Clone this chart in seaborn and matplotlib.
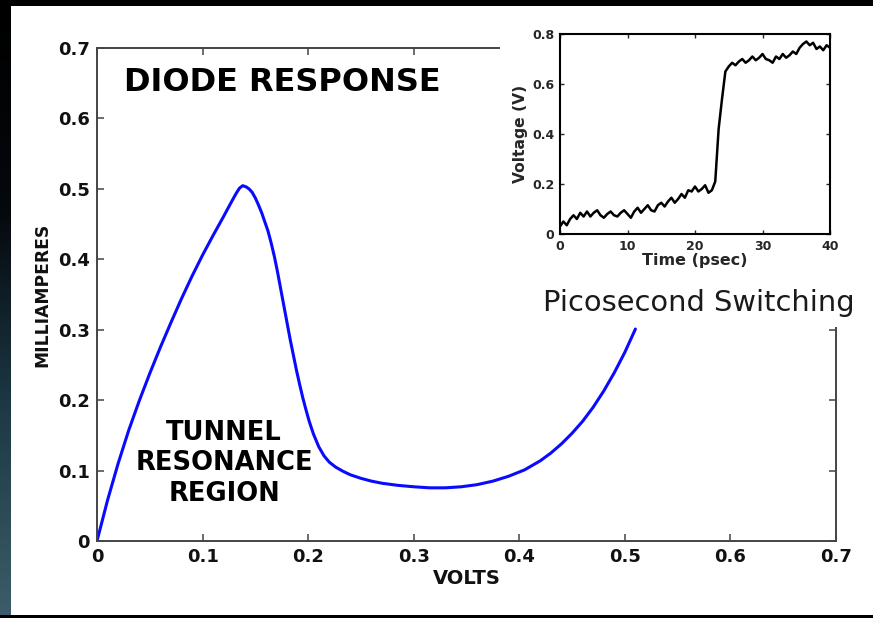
import matplotlib
matplotlib.use("Agg")
import matplotlib.pyplot as plt
import numpy as np
import seaborn as sns
from matplotlib.colors import LinearSegmentedColormap
from matplotlib.patches import Rectangle

# main diode I-V curve (volts, milliamperes)
volts = [0.000, 0.010, 0.020, 0.030, 0.040, 0.050, 0.060, 0.070, 0.080, 0.090,
         0.100, 0.110, 0.120, 0.125, 0.129, 0.132, 0.135, 0.138, 0.141, 0.144,
         0.147, 0.150, 0.153, 0.156, 0.159, 0.162, 0.165, 0.168, 0.171, 0.174,
         0.177, 0.180, 0.183, 0.186, 0.189, 0.192, 0.195, 0.198, 0.201, 0.205,
         0.210, 0.215, 0.220, 0.226, 0.233, 0.240, 0.250, 0.260, 0.270, 0.285,
         0.300, 0.315, 0.330, 0.345, 0.360, 0.375, 0.390, 0.405, 0.420, 0.430,
         0.440, 0.450, 0.460, 0.470, 0.480, 0.490, 0.500, 0.510]
milliamps = [0.000, 0.058, 0.110, 0.157, 0.199, 0.238, 0.275, 0.310, 0.344, 0.376,
             0.406, 0.434, 0.461, 0.475, 0.486, 0.494, 0.501, 0.5045, 0.503, 0.500,
             0.495, 0.487, 0.477, 0.466, 0.453, 0.440, 0.423, 0.404, 0.382, 0.358,
             0.334, 0.310, 0.286, 0.264, 0.242, 0.222, 0.203, 0.186, 0.170, 0.152,
             0.134, 0.121, 0.112, 0.105, 0.099, 0.094, 0.089, 0.085, 0.082, 0.079,
             0.077, 0.0755, 0.0755, 0.077, 0.080, 0.085, 0.092, 0.101, 0.114, 0.125,
             0.138, 0.153, 0.170, 0.190, 0.213, 0.239, 0.268, 0.301]

main_ticks = [0.0, 0.1, 0.2, 0.3, 0.4, 0.5, 0.6, 0.7]
main_tick_labels = ["0", "0.1", "0.2", "0.3", "0.4", "0.5", "0.6", "0.7"]

# inset switching trace (psec, volts)
switch_time = [0.0, 0.5, 1.0, 1.5, 2.0, 2.5, 3.0, 3.5, 4.0, 4.5,
               5.0, 5.5, 6.0, 6.5, 7.0, 7.5, 8.0, 8.5, 9.0, 9.5,
               10.0, 10.5, 11.0, 11.5, 12.0, 12.5, 13.0, 13.5, 14.0, 14.5,
               15.0, 15.5, 16.0, 16.5, 17.0, 17.5, 18.0, 18.5, 19.0, 19.5,
               20.0, 20.5, 21.0, 21.5, 22.0, 22.5, 23.0, 23.5, 24.0, 24.5,
               25.0, 25.5, 26.0, 26.5, 27.0, 27.5, 28.0, 28.5, 29.0, 29.5,
               30.0, 30.5, 31.0, 31.5, 32.0, 32.5, 33.0, 33.5, 34.0, 34.5,
               35.0, 35.5, 36.0, 36.5, 37.0, 37.5, 38.0, 38.5, 39.0, 39.5, 40.0]
switch_volts = [0.03, 0.05, 0.035, 0.06, 0.075, 0.06, 0.085, 0.07, 0.09, 0.07,
                0.085, 0.095, 0.075, 0.065, 0.08, 0.09, 0.075, 0.07, 0.085, 0.095,
                0.08, 0.065, 0.09, 0.105, 0.085, 0.10, 0.115, 0.095, 0.09, 0.115,
                0.125, 0.11, 0.13, 0.145, 0.125, 0.14, 0.16, 0.145, 0.175, 0.17,
                0.19, 0.17, 0.18, 0.195, 0.165, 0.175, 0.21, 0.42, 0.54, 0.65,
                0.67, 0.685, 0.675, 0.69, 0.70, 0.685, 0.695, 0.71, 0.695, 0.705,
                0.72, 0.70, 0.695, 0.685, 0.71, 0.70, 0.72, 0.705, 0.715, 0.73,
                0.72, 0.745, 0.76, 0.77, 0.755, 0.765, 0.74, 0.75, 0.735, 0.755, 0.745]

inset_xticks = [0, 10, 20, 30, 40]
inset_yticks = [0, 0.2, 0.4, 0.6, 0.8]
inset_ytick_labels = ["0", "0.2", "0.4", "0.6", "0.8"]

sns.set_style("ticks")
plt.rcParams["font.family"] = ["DejaVu Sans"]
plt.rcParams["font.weight"] = "bold"

W, H = 873, 618
fig = plt.figure(figsize=(W / 100, H / 100), dpi=100, facecolor="black")

# white slide panel and the dark strip on the left
fig.patches.append(Rectangle((11 / W, 3 / H), 1 - 11 / W, 1 - 9 / H,
                             transform=fig.transFigure, facecolor="white",
                             edgecolor="none", zorder=-2))
strip = fig.add_axes([0, 3 / H, 11 / W, 1 - 9 / H], zorder=-1)
strip_cmap = LinearSegmentedColormap.from_list(
    "strip", ["#000000", "#05080c", "#1d3a46", "#3b5c68"])
strip.imshow(np.linspace(0, 1, 200)[:, None], aspect="auto", cmap=strip_cmap)
strip.set_axis_off()

# main plot
ax = fig.add_axes([97 / W, 1 - 541 / H, 739 / W, 493 / H], zorder=0)
sns.lineplot(x=volts, y=milliamps, ax=ax, color="#0a0aff", linewidth=2.2)
ax.set_xlim(0, 0.7)
ax.set_ylim(0, 0.7)
ax.set_xticks(main_ticks, main_tick_labels)
ax.set_yticks(main_ticks, main_tick_labels)
ax.tick_params(direction="in", top=True, right=True, length=5, width=1.1,
               color="#444444", labelsize=13, pad=5, labelcolor="#111111")
for side in ax.spines.values():
    side.set_color("#444444")
    side.set_linewidth(1.4)
ax.set_xlabel("VOLTS", fontsize=14, fontweight="bold", labelpad=2, color="#111111")
ax.set_ylabel("MILLIAMPERES", fontsize=12.3, fontweight="bold", labelpad=5,
              color="#111111")

ax.text(0.2503, 0.931, "DIODE RESPONSE", transform=ax.transAxes, ha="center",
        va="center", fontsize=23, fontweight="bold", color="black")
ax.text(0.172, 0.158, "TUNNEL\nRESONANCE\nREGION", transform=ax.transAxes,
        ha="center", va="center", multialignment="center", fontsize=18.5,
        fontweight="bold", color="black", linespacing=1.22)

# white area that hides the top right corner of the main frame
fig.patches.append(Rectangle((500 / W, 1 - 327 / H), 1 - 500 / W, 321 / H,
                             transform=fig.transFigure, facecolor="white",
                             edgecolor="none", zorder=1))

# inset
axin = fig.add_axes([560 / W, 1 - 234 / H, 270 / W, 200 / H], zorder=2)
sns.lineplot(x=switch_time, y=switch_volts, ax=axin, color="black", linewidth=1.8)
axin.set_xlim(0, 40)
axin.set_ylim(0, 0.8)
axin.set_xticks(inset_xticks)
axin.set_yticks(inset_yticks, inset_ytick_labels)
axin.tick_params(direction="in", top=True, right=True, length=3, width=1,
                 labelsize=9, pad=4)
for side in axin.spines.values():
    side.set_color("black")
    side.set_linewidth(1.5)
axin.set_xlabel("Time (psec)", fontsize=11.5, fontweight="bold", labelpad=0)
axin.set_ylabel("Voltage (V)", fontsize=11.2, fontweight="bold", labelpad=3)

fig.text(699 / W, 1 - 303 / H, "Picosecond Switching", ha="center", va="center",
         fontsize=20.8, fontweight="normal", color="#1a1a1a", zorder=3)

fig.savefig("out.png", dpi=100, facecolor=fig.get_facecolor())
